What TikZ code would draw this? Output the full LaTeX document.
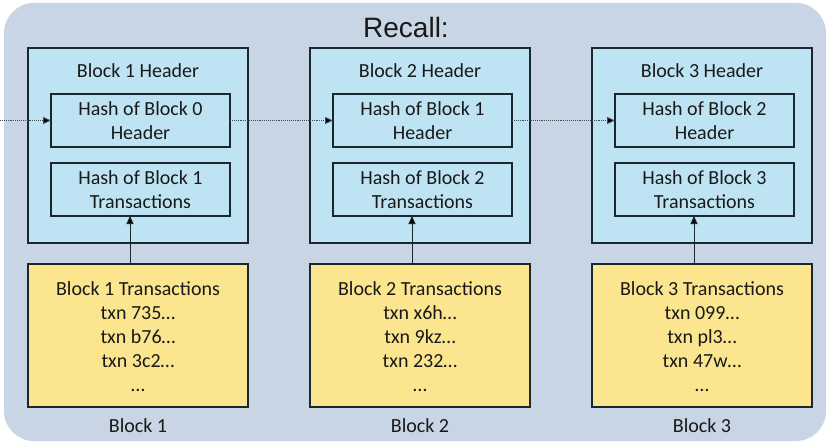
\documentclass[tikz,border=0pt]{standalone}
\usepackage{fontspec}
\setmainfont{Carlito}
\newfontfamily\titlefont{Liberation Sans}
\usetikzlibrary{arrows.meta}

\definecolor{panelbg}{RGB}{199,213,229}
\definecolor{hdrfill}{RGB}{190,228,243}
\definecolor{txnfill}{RGB}{251,229,142}
\definecolor{edge}{RGB}{28,38,46}
\definecolor{inktext}{RGB}{25,25,25}
\definecolor{linkdot}{RGB}{60,80,85}

\tikzset{
  x=1pt, y=-1pt,
  every node/.style={inner sep=0pt, outer sep=0pt, text=inktext,
    font=\fontsize{20}{24}\selectfont},
  headerbox/.style={draw=edge, line width=1.2pt, fill=hdrfill,
    minimum width=220pt, minimum height=195pt},
  hashbox/.style={draw=edge, line width=1.2pt, fill=hdrfill,
    minimum width=179pt, minimum height=53pt, align=center},
  txnbox/.style={draw=edge, line width=1.2pt, fill=txnfill,
    minimum width=220pt, minimum height=143pt},
  linkarrow/.style={densely dotted, draw=linkdot, line width=0.9pt,
    -{Triangle[length=8pt,width=7pt,fill=black]}},
  feedarrow/.style={draw=edge, line width=0.9pt,
    -{Triangle[length=8pt,width=7pt,fill=black]}},
}

\begin{document}
\begin{tikzpicture}
  \useasboundingbox (0,0) rectangle (828,444);
  \fill[white] (0,0) rectangle (828,444);
  \fill[panelbg, rounded corners=30pt] (4,3) rectangle (826,441);

  \node[font=\titlefont\fontsize{28}{30}\selectfont] (title) at (406,27) {Recall:};

  \foreach \i/\p/\ta/\tb/\tc [evaluate=\i as \dx using {282*(\i-1)}] in
      {1/0/735/b76/3c2, 2/1/x6h/9kz/232, 3/2/099/pl3/47w} {
    \node[headerbox] (hb\i) at (138+\dx,145.5) {};
    \node (hbt\i) at (138+\dx,71) {Block \i{} Header};
    \node[hashbox] (hh\i) at (140.5+\dx,120.5) {Hash of Block \p\\Header};
    \node[hashbox] (ht\i) at (140.5+\dx,189.5) {Hash of Block \i\\Transactions};
    \node[txnbox] (tx\i) at (138+\dx,335.5) {};
    \node[align=center, anchor=north] (txt\i) at (138+\dx,282)
      {Block \i{} Transactions\\txn \ta\dots\\txn \tb\dots\\txn \tc\dots\\\dots};
    \node (lb\i) at (138+\dx,426) {Block \i};
    \draw[feedarrow] ([xshift=-8pt]tx\i.north) -- ([xshift=-10.5pt]ht\i.south);
  }

  \coordinate (entry) at (0,120.5);
  \draw[linkarrow] (entry) -- (hh1.west);
  \draw[linkarrow] (hh1.east) -- (hh2.west);
  \draw[linkarrow] (hh2.east) -- (hh3.west);
\end{tikzpicture}
\end{document}
